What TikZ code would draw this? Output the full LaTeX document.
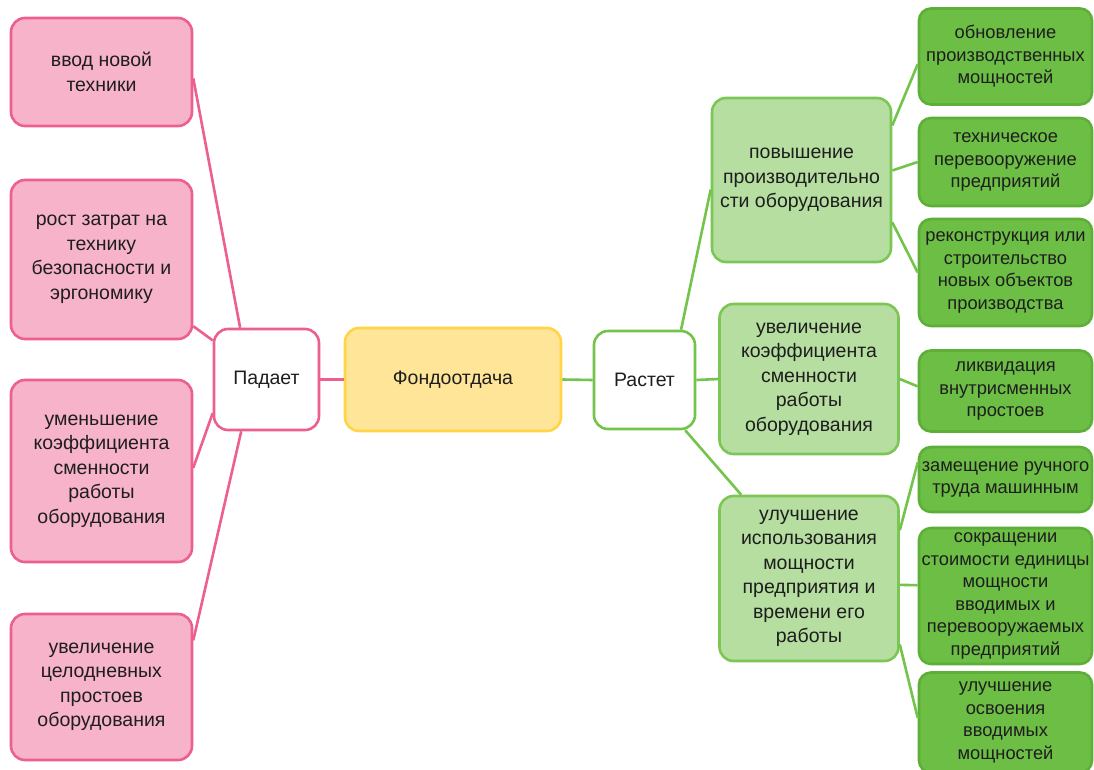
\documentclass[tikz,border=0pt]{standalone}
\usepackage{fontspec}
\setmainfont{Liberation Sans}
\definecolor{pinkfill}{HTML}{F7B3C9}
\definecolor{pinkline}{HTML}{EC5F8E}
\definecolor{yelfill}{HTML}{FFE597}
\definecolor{yelline}{HTML}{FFD445}
\definecolor{lgfill}{HTML}{B5DEA0}
\definecolor{lgline}{HTML}{7CC655}
\definecolor{dgfill}{HTML}{6DBE45}
\definecolor{dgline}{HTML}{5DAF38}
\definecolor{gline}{HTML}{74C44B}
\definecolor{txt}{HTML}{1E1E1E}
\tikzset{
  box/.style={rectangle, rounded corners=14pt, line width=2.6pt, inner sep=0pt, align=center, text=txt, font=\fontsize{19.5}{24.5}\selectfont},
  pinkbox/.style={box, draw=pinkline, fill=pinkfill, minimum width=181pt},
  padbox/.style={box, draw=pinkline, fill=white},
  yelbox/.style={box, draw=yelline, fill=yelfill},
  rastbox/.style={box, draw=gline, fill=white},
  lgbox/.style={box, draw=lgline, fill=lgfill, minimum width=179pt},
  dgbox/.style={box, draw=dgline, fill=dgfill, minimum width=173pt, rounded corners=12pt, font=\fontsize{18.3}{22.5}\selectfont},
  pinkedge/.style={draw=pinkline, line width=2.6pt},
  greenedge/.style={draw=gline, line width=2.6pt},
}
\begin{document}
\begin{tikzpicture}[x=1pt, y=-1pt]
\useasboundingbox (0,0) rectangle (1094,770);
\fill[white] (0,0) rectangle (1094,770);
% left
\node[pinkbox, minimum height=108pt] (l1) at (101.5,72) {ввод новой\\техники};
\node[pinkbox, minimum height=159pt] (l2) at (101.5,259.5) {рост затрат на\\технику\\безопасности и\\эргономику};
\node[pinkbox, minimum height=182pt] (l3) at (101.5,471) {уменьшение\\коэффициента\\сменности\\работы\\оборудования};
\node[pinkbox, minimum height=146pt] (l4) at (101.5,687) {увеличение\\целодневных\\простоев\\оборудования};
\node[padbox, minimum width=105pt, minimum height=101pt] (pad) at (266.5,379.5) {Падает};
\node[yelbox, minimum width=216pt, minimum height=103pt] (fond) at (453,379.5) {Фондоотдача};
\node[rastbox, minimum width=101pt, minimum height=98pt] (rast) at (644.5,380) {Растет};
% middle
\node[lgbox, minimum height=164pt] (m1) at (801.5,180) {повышение\\производительно\\сти оборудования};
\node[lgbox, minimum height=150pt] (m2) at (809,379) {увеличение\\коэффициента\\сменности\\работы\\оборудования};
\node[lgbox, minimum height=165pt] (m3) at (809,578.5) {улучшение\\использования\\мощности\\предприятия и\\времени его\\работы};
% right
\node[dgbox, minimum height=96pt] (r1) at (1005.5,56.5) {обновление\\производственных\\мощностей};
\node[dgbox, minimum height=88pt] (r2) at (1005.5,162) {техническое\\перевооружение\\предприятий};
\node[dgbox, minimum height=107pt] (r3) at (1005.5,272.5) {реконструкция или\\строительство\\новых объектов\\производства};
\node[dgbox, minimum height=81pt] (r4) at (1005.5,391) {ликвидация\\внутрисменных\\простоев};
\node[dgbox, minimum height=65pt] (r5) at (1005.5,479.5) {замещение ручного\\труда машинным};
\node[dgbox, minimum height=136pt] (r6) at (1005.5,596) {сокращении\\стоимости единицы\\мощности\\вводимых и\\перевооружаемых\\предприятий};
\node[dgbox, minimum height=100pt] (r7) at (1005.5,722.5) {улучшение\\освоения\\вводимых\\мощностей};
% edges
\draw[pinkedge] (l1.-4) -- (pad.117);
\draw[pinkedge] (l2.-36) -- (pad.144);
\draw[pinkedge] (l3.2) -- (pad.212);
\draw[pinkedge] (l4.27) -- (pad.244);
\draw[pinkedge] (pad.east) -- (fond.west);
\draw[greenedge] (fond.east) -- (rast.west);
\draw[greenedge] (rast.54) -- (m1.186);
\draw[greenedge] (rast.east) -- (m2.west);
\draw[greenedge] (rast.-51) -- (m3.129);
\draw[greenedge] (m1.31) -- (r1.185);
\draw[greenedge] (m1.6) -- (r2.west);
\draw[greenedge] (m1.-25) -- (r3.west);
\draw[greenedge] (m2.east) -- (r4.177);
\draw[greenedge] (m3.28) -- (r5.169);
\draw[greenedge] (m3.-4) -- (r6.173);
\draw[greenedge] (m3.-36) -- (r7.177);
\end{tikzpicture}
\end{document}
